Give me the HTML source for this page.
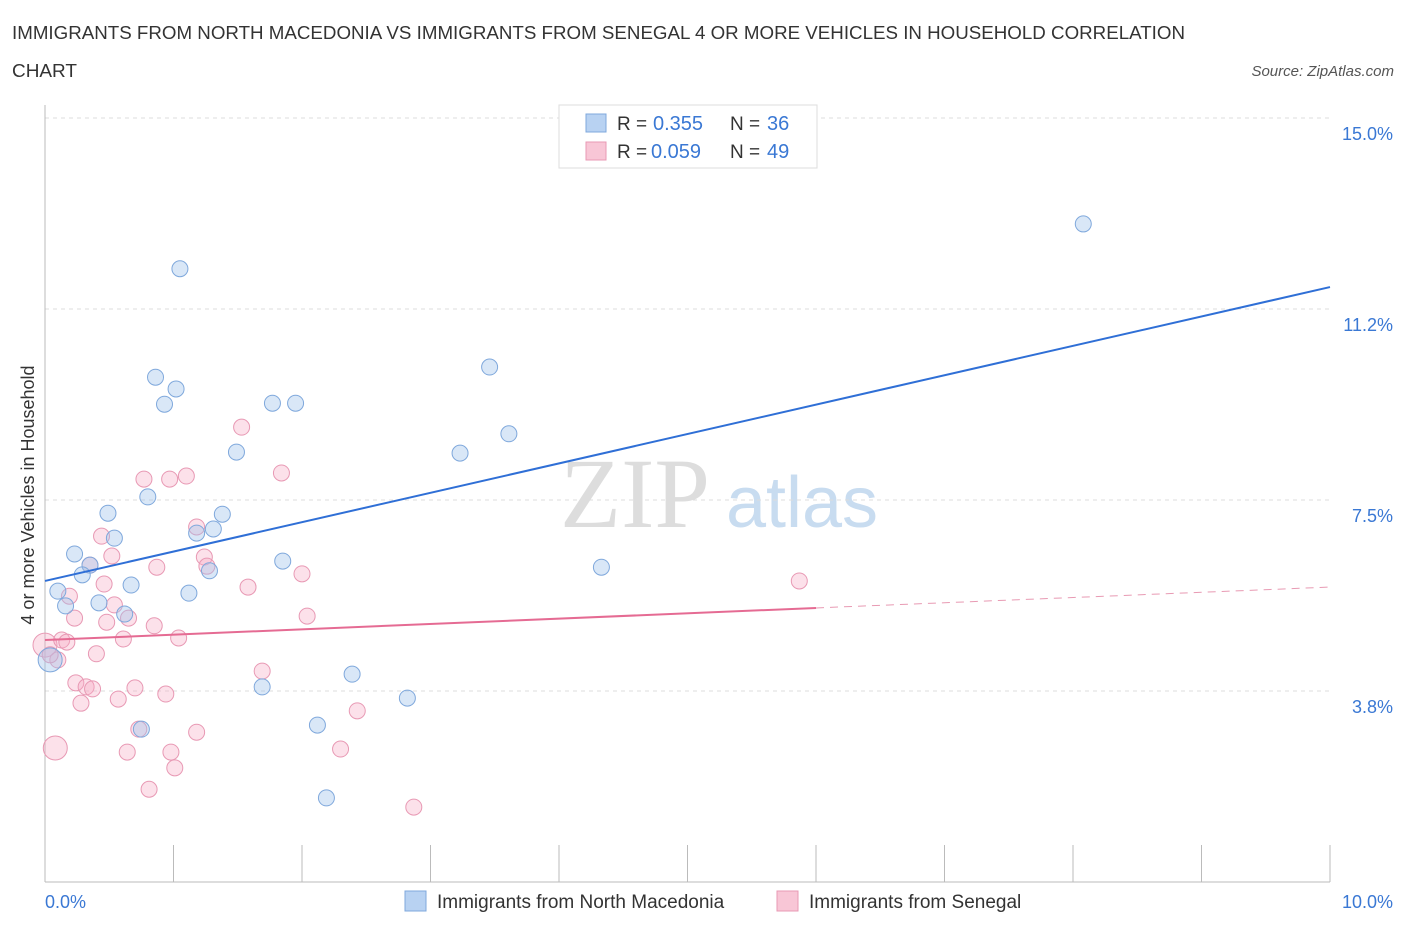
<!DOCTYPE html>
<html><head><meta charset="utf-8"><style>
body{margin:0;background:#fff;font-family:"Liberation Sans",sans-serif;}
</style></head><body>
<svg id="chart" width="1406" height="930" xmlns="http://www.w3.org/2000/svg" font-family="Liberation Sans, sans-serif">
<text x="12" y="39" font-size="18" fill="#333" textLength="1173" lengthAdjust="spacingAndGlyphs">IMMIGRANTS FROM NORTH MACEDONIA VS IMMIGRANTS FROM SENEGAL 4 OR MORE VEHICLES IN HOUSEHOLD CORRELATION</text>
<text x="12" y="77" font-size="18" fill="#333" textLength="65" lengthAdjust="spacingAndGlyphs">CHART</text>
<text x="1394" y="76" font-size="15" fill="#555" font-style="italic" text-anchor="end">Source: ZipAtlas.com</text>
<g>
<text x="635" y="527" font-size="100" fill="#ddd" style="font-family:'Liberation Serif',serif" text-anchor="middle">ZIP</text>
<text x="802" y="527" font-size="72" fill="#c8dcf0" text-anchor="middle">atlas</text>
</g>
<g id="grid"></g>
<g id="marks"></g>
<text transform="translate(34,495) rotate(-90)" font-size="18" fill="#333" text-anchor="middle">4 or more Vehicles in Household</text>
<text x="45" y="908" font-size="18" fill="#3a78d4">0.0%</text>
<text x="1393" y="908" font-size="18" fill="#3a78d4" text-anchor="end">10.0%</text>
<g>
<rect x="559" y="105" width="258" height="63" fill="#fff" stroke="#ddd"/>
<rect x="586" y="114" width="20" height="18" fill="#b8d2f2" stroke="#7fa8dc"/>
<text x="617" y="130" font-size="19" fill="#333">R =</text>
<text x="653" y="130" font-size="20" fill="#3a78d4">0.355</text>
<text x="730" y="130" font-size="19" fill="#333">N =</text>
<text x="767" y="130" font-size="20" fill="#3a78d4">36</text>
<rect x="586" y="142" width="20" height="18" fill="#f8c6d6" stroke="#e899b4"/>
<text x="617" y="158" font-size="19" fill="#333">R =</text>
<text x="651" y="158" font-size="20" fill="#3a78d4">0.059</text>
<text x="730" y="158" font-size="19" fill="#333">N =</text>
<text x="767" y="158" font-size="20" fill="#3a78d4">49</text>
</g>
<g>
<rect x="405" y="891" width="21" height="20" fill="#b8d2f2" stroke="#7fa8dc"/>
<text x="437" y="908" font-size="19" fill="#333">Immigrants from North Macedonia</text>
<rect x="777" y="891" width="21" height="20" fill="#f8c6d6" stroke="#e899b4"/>
<text x="809" y="908" font-size="19" fill="#333">Immigrants from Senegal</text>
</g>
</svg>
<script>
const yTicks=[15.0,11.25,7.5,3.75];
const yTickLabels=["15.0%","11.2%","7.5%","3.8%"];
const xTicks=[0,1,2,3,4,5,6,7,8,9,10];
const blueX=[8.08,1.05,0.86,1.02,0.93,1.77,1.95,3.46,3.61,3.23,1.49,0.80,0.49,1.38,0.54,1.18,1.31,0.23,0.35,0.29,1.28,1.85,4.33,0.10,0.67,1.12,0.42,0.16,0.62,0.04,1.69,2.39,2.82,2.12,0.75,2.19];
const blueY=[12.92,12.04,9.91,9.68,9.38,9.40,9.40,10.11,8.80,8.42,8.44,7.56,7.24,7.22,6.75,6.85,6.93,6.44,6.22,6.03,6.11,6.30,6.18,5.71,5.83,5.67,5.48,5.42,5.26,4.36,3.83,4.08,3.61,3.08,3.00,1.65];
const blueBig=[29];
const pinkX=[0.00,0.08,0.10,0.13,0.17,0.19,0.23,0.24,0.28,0.32,0.37,0.35,0.40,0.44,0.46,0.52,0.48,0.54,0.57,0.61,0.64,0.65,0.70,0.73,0.77,0.81,0.85,0.87,0.94,0.97,0.98,1.01,1.04,1.10,1.18,1.18,1.24,1.26,1.53,1.58,1.69,2.00,1.84,2.04,2.30,2.43,2.87,5.87,0.04];
const pinkY=[4.65,2.63,4.36,4.75,4.71,5.61,5.18,3.91,3.51,3.83,3.79,6.22,4.48,6.79,5.85,6.40,5.10,5.44,3.59,4.77,2.55,5.18,3.81,3.00,7.91,1.82,5.03,6.18,3.69,7.91,2.55,2.24,4.79,7.97,6.97,2.94,6.38,6.20,8.93,5.79,4.14,6.05,8.03,5.22,2.61,3.36,1.47,5.91,4.46];
const pinkBig=[0,1];
const blueTrend=[[0,5.91],[10,11.68]];
const pinkTrendSolid=[[0,4.75],[6,5.38]];
const pinkTrendDash=[[6,5.38],[10,5.79]];
const NS="http://www.w3.org/2000/svg";
const X=v=>45+v*128.5, Y=v=>118+(15-v)*50.93;
function mk(t,a,p){const e=document.createElementNS(NS,t);for(const k in a)e.setAttribute(k,a[k]);p.appendChild(e);return e;}
const grid=document.getElementById('grid'), marks=document.getElementById('marks');
yTicks.forEach((v,i)=>{
 const l=mk('line',{x1:45,x2:1330,y1:Y(v),y2:Y(v),stroke:'#ddd','stroke-dasharray':'4,4'},grid);
 
 
 const t=mk('text',{x:1393,y:Y(v)+22,'font-size':18,fill:'#3a78d4','text-anchor':'end'},grid);
 t.textContent=yTickLabels[i];
 
 
});
const ax=mk('line',{x1:45,x2:45,y1:105,y2:882,stroke:'#bbb'},grid);


const bx=mk('line',{x1:45,x2:1330,y1:882,y2:882,stroke:'#bbb'},grid);


xTicks.forEach(v=>{
 const l=mk('line',{x1:X(v),x2:X(v),y1:845,y2:882,stroke:'#bbb'},grid);
 
 
});
function pts(xs,ys,big,fill,stroke,name){
 xs.forEach((x,i)=>{
  const c=mk('circle',{cx:X(x),cy:Y(ys[i]),r:big.includes(i)?12:8,fill:fill,stroke:stroke,'stroke-width':1},marks);
  
  
 });
}
pts(pinkX,pinkY,pinkBig,'rgba(245,170,195,0.35)','#e899b4','senegal-point');
pts(blueX,blueY,blueBig,'rgba(160,195,235,0.4)','#7fa8dc','macedonia-point');
function line(p,stroke,dash,name){
 const a={x1:X(p[0][0]),y1:Y(p[0][1]),x2:X(p[1][0]),y2:Y(p[1][1]),stroke:stroke,'stroke-width':2};
 if(dash){a['stroke-dasharray']='8,6';a['stroke-width']=1;}
 const l=mk('line',a,marks);
 
 
}
line(blueTrend,'#2f6fd6',false,'macedonia-trend-line');
line(pinkTrendSolid,'#e56b93',false,'senegal-trend-line');
line(pinkTrendDash,'#e89ab3',true,'senegal-trend-extension');
</script>
</body></html>
